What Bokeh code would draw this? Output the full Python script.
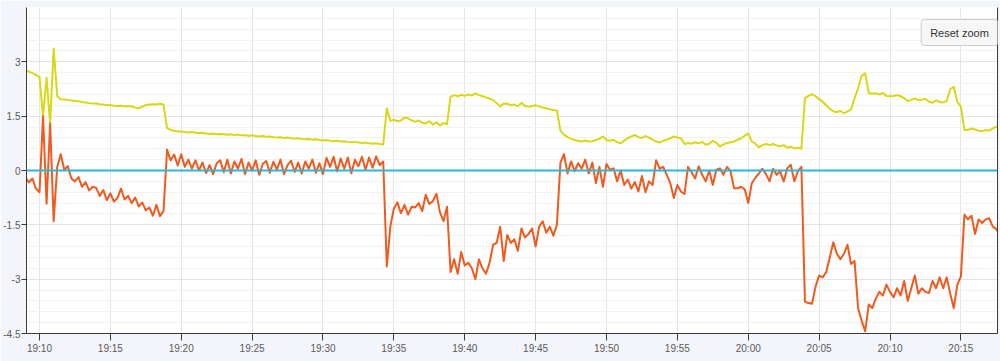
import numpy as np
import pandas as pd
from bokeh.plotting import figure
from bokeh.models import (FixedTicker, DatetimeTickFormatter, Range1d, Label,
                          LinearAxis, Span)
from bokeh.embed import file_html
from bokeh.resources import INLINE

# ---------------- data ----------------
DAY = "2024-01-01"
SERIES_START = "19:09:00"
STEP_SECONDS = 15
VIEW_START = "19:09:05"
VIEW_END = "20:17:35"

yellow = [
    2.77, 2.73, 2.69, 2.64, 2.57, 1.50, 2.56, 1.30, 3.37, 2.05,
    1.97, 1.96, 1.95, 1.93, 1.92, 1.91, 1.89, 1.88, 1.86, 1.85,
    1.85, 1.83, 1.82, 1.80, 1.81, 1.79, 1.78, 1.79, 1.77, 1.78,
    1.77, 1.74, 1.72, 1.76, 1.81, 1.82, 1.83, 1.82, 1.84, 1.82,
    1.17, 1.12, 1.10, 1.08, 1.08, 1.06, 1.05, 1.06, 1.04, 1.03,
    1.04, 1.02, 1.01, 1.02, 1.00, 1.01, 1.00, 0.99, 1.00, 0.98,
    0.99, 0.97, 0.97, 0.96, 0.97, 0.95, 0.94, 0.95, 0.93, 0.94,
    0.92, 0.91, 0.92, 0.90, 0.91, 0.89, 0.88, 0.89, 0.87, 0.86,
    0.87, 0.85, 0.86, 0.84, 0.83, 0.84, 0.82, 0.81, 0.82, 0.80,
    0.81, 0.79, 0.78, 0.79, 0.77, 0.76, 0.77, 0.75, 0.74, 0.75,
    0.73, 0.72, 1.72, 1.37, 1.40, 1.36, 1.38, 1.46, 1.44, 1.38,
    1.35, 1.38, 1.32, 1.30, 1.36, 1.27, 1.33, 1.24, 1.31, 1.28,
    2.04, 2.08, 2.05, 2.09, 2.06, 2.10, 2.07, 2.13, 2.08, 2.05,
    2.02, 1.98, 1.95, 1.86, 1.77, 1.85, 1.84, 1.80, 1.82, 1.77,
    1.87, 1.78, 1.76, 1.78, 1.80, 1.77, 1.74, 1.72, 1.69, 1.67,
    1.66, 1.10, 0.99, 0.92, 0.88, 0.84, 0.82, 0.80, 0.83, 0.80,
    0.81, 0.84, 0.88, 0.94, 0.84, 0.82, 0.85, 0.78, 0.75, 0.83,
    0.89, 0.94, 0.98, 0.92, 0.90, 0.95, 0.91, 0.85, 0.80, 0.77,
    0.82, 0.85, 0.89, 0.94, 0.91, 0.89, 0.73, 0.76, 0.74, 0.78,
    0.75, 0.79, 0.71, 0.74, 0.82, 0.77, 0.66, 0.72, 0.76, 0.78,
    0.80, 0.85, 0.89, 0.96, 1.02, 0.80, 0.74, 0.64, 0.70, 0.73,
    0.70, 0.73, 0.69, 0.67, 0.70, 0.63, 0.66, 0.61, 0.63, 0.60,
    2.00, 2.06, 2.11, 2.05, 1.97, 1.90, 1.80, 1.70, 1.64, 1.61,
    1.65, 1.58, 1.63, 1.68, 2.00, 2.27, 2.62, 2.68, 2.14, 2.12,
    2.13, 2.10, 2.14, 2.06, 2.05, 2.06, 2.08, 2.05, 2.00, 1.92,
    1.95, 1.99, 1.94, 1.95, 1.98, 1.90, 1.87, 1.94, 1.89, 1.88,
    1.92, 2.25, 2.31, 1.90, 1.76, 1.12, 1.12, 1.16, 1.13, 1.10,
    1.08, 1.12, 1.10, 1.16, 1.21, 1.20,
]

orange = [
    -0.18, -0.33, -0.22, -0.50, -0.60, 1.50, -0.92, 1.30, -1.40, 0.10,
    0.45, 0.02, 0.12, -0.22, -0.30, -0.18, -0.45, -0.32, -0.55, -0.45,
    -0.48, -0.70, -0.54, -0.82, -0.63, -0.86, -0.76, -0.50, -0.80, -0.70,
    -0.90, -0.75, -0.99, -0.88, -1.10, -1.02, -1.25, -0.95, -1.26, -1.12,
    0.58, 0.28, 0.44, 0.14, 0.45, 0.10, 0.30, 0.05, 0.28, 0.00,
    0.22, -0.07, 0.15, -0.10, 0.20, 0.28, -0.05, 0.30, -0.08, 0.25,
    0.05, 0.32, -0.10, 0.22, 0.00, 0.28, -0.12, 0.18, 0.26, -0.06,
    0.24, 0.02, 0.30, -0.10, 0.15, 0.27, -0.04, 0.22, -0.08, 0.25,
    0.05, 0.30, -0.06, 0.20, -0.10, 0.35, 0.10, 0.38, -0.02, 0.33,
    0.05, 0.36, -0.08, 0.30, 0.12, 0.38, 0.02, 0.36, 0.08, 0.39,
    0.15, 0.25, -2.65, -1.55, -1.05, -0.88, -1.18, -0.95, -1.22, -1.00,
    -1.02, -0.90, -1.12, -0.67, -0.92, -0.85, -0.64, -1.15, -1.40, -1.00,
    -2.80, -2.45, -2.85, -2.25, -2.62, -2.55, -2.70, -3.00, -2.45, -2.70,
    -2.85, -2.55, -2.05, -2.00, -1.55, -2.50, -1.78, -2.00, -1.90, -2.22,
    -1.60, -1.85, -1.75, -1.60, -2.10, -1.55, -1.40, -1.72, -1.55, -1.80,
    -1.50, 0.22, 0.45, -0.08, 0.25, -0.02, 0.20, 0.05, 0.30, -0.08,
    0.22, -0.35, 0.10, -0.45, 0.18, 0.02, 0.06, -0.30, 0.00, -0.40,
    -0.25, -0.50, -0.32, -0.58, -0.15, -0.60, -0.30, -0.40, 0.28, 0.05,
    0.10, -0.12, -0.35, -0.76, -0.40, -0.58, -0.65, 0.10, -0.05, -0.22,
    0.12, -0.12, -0.30, 0.00, -0.40, 0.02, 0.06, -0.12, 0.10, -0.02,
    -0.49, -0.49, -0.45, -0.52, -0.90, -0.35, -0.20, -0.08, 0.05, -0.10,
    -0.30, 0.05, -0.12, -0.02, -0.30, 0.06, 0.16, -0.30, -0.02, 0.10,
    -3.62, -3.66, -3.68, -3.20, -2.90, -2.95, -2.80, -2.40, -1.98, -2.30,
    -2.45, -2.30, -2.05, -2.58, -2.50, -3.80, -4.15, -4.44, -3.70, -3.80,
    -3.53, -3.35, -3.45, -3.15, -3.35, -3.50, -3.25, -3.45, -3.05, -3.60,
    -3.25, -2.90, -3.40, -3.25, -3.35, -3.38, -3.05, -3.25, -2.95, -3.25,
    -2.95, -3.40, -3.80, -3.15, -2.92, -1.22, -1.35, -1.25, -1.75, -1.35,
    -1.45, -1.35, -1.32, -1.55, -1.62, -1.78,
]

baseline_value = 0.0

y_min, y_max = -4.5, 4.5
y_ticks = [-4.5, -3.0, -1.5, 0.0, 1.5, 3.0]
y_tick_labels = {-4.5: "-4.5", -3.0: "-3", -1.5: "-1.5", 0.0: "0", 1.5: "1.5", 3.0: "3"}
x_tick_times = ["19:10", "19:15", "19:20", "19:25", "19:30", "19:35", "19:40",
                "19:45", "19:50", "19:55", "20:00", "20:05", "20:10", "20:15"]

# ---------------- build ----------------
t_yellow = pd.date_range(f"{DAY} {SERIES_START}", periods=len(yellow), freq=f"{STEP_SECONDS}s")
t_orange = pd.date_range(f"{DAY} {SERIES_START}", periods=len(orange), freq=f"{STEP_SECONDS}s")

def ms(t):
    return pd.Timestamp(f"{DAY} {t}").value // 10**6

YELLOW = "#d8d814"
ORANGE = "#f15a1f"
CYAN = "#2bb8d8"
AXIS = "#3a3a3a"
LABEL = "#5a5a5a"
FONT = "Liberation Sans"

p = figure(width=1000, height=361, x_axis_type="datetime",
           output_backend="svg", toolbar_location=None,
           x_range=Range1d(pd.Timestamp(f"{DAY} {VIEW_START}"), pd.Timestamp(f"{DAY} {VIEW_END}")),
           y_range=Range1d(y_min, y_max),
           min_border_left=0, min_border_right=3, min_border_top=7, min_border_bottom=28,
           background_fill_color="white", border_fill_color="#f4f5fa",
           outline_line_color=None)

# x axis
xax = p.xaxis[0]
xax.ticker = FixedTicker(ticks=[ms(t) for t in x_tick_times], minor_ticks=[])
xax.formatter = DatetimeTickFormatter(seconds="%H:%M", minsec="%H:%M", minutes="%H:%M",
                                      hourmin="%H:%M", hours="%H:%M")
xax.axis_line_color = AXIS
xax.major_tick_line_color = AXIS
xax.major_tick_out = 7
xax.major_tick_in = 0
xax.minor_tick_out = 0
xax.major_label_standoff = 2
xax.major_label_text_font = FONT
xax.major_label_text_font_size = "10px"
xax.major_label_text_color = LABEL

# y axis
minor = [float(v) for v in np.round(np.arange(y_min, y_max + 0.01, 0.3), 2)]
yax = p.yaxis[0]
yax.ticker = FixedTicker(ticks=y_ticks, minor_ticks=minor)
yax.major_label_overrides = y_tick_labels
yax.axis_line_color = AXIS
yax.major_tick_line_color = AXIS
yax.major_tick_out = 5
yax.major_tick_in = 0
yax.minor_tick_out = 0
yax.minor_tick_in = 0
yax.major_label_standoff = 1
yax.major_label_text_font = FONT
yax.major_label_text_font_size = "10px"
yax.major_label_text_color = LABEL

# right border axis line
rax = LinearAxis(ticker=FixedTicker(ticks=[], minor_ticks=[]),
                 axis_line_color=AXIS, major_tick_out=0, major_tick_in=0,
                 minor_tick_out=0, minor_tick_in=0, major_label_standoff=0)
p.add_layout(rax, "right")

# grids
p.xgrid.grid_line_color = "#e6e6e6"
p.ygrid.grid_line_color = "#e3e3e3"
p.ygrid.minor_grid_line_color = "#f2f2f2"

# series
p.line(t_yellow, yellow, line_color=YELLOW, line_width=2, line_join="round")
p.line(t_orange, orange, line_color=ORANGE, line_width=2, line_join="round")
p.add_layout(Span(location=baseline_value, dimension="width", line_color=CYAN, line_width=2))

# "Reset zoom" button
p.add_layout(Label(x=933, y=301, x_units="screen", y_units="screen", text="Reset zoom",
                   text_font=FONT, text_font_size="11px", text_color="#333333",
                   text_align="center", text_baseline="middle",
                   background_fill_color="#f7f7f7", border_line_color="#cccccc",
                   padding=(9, 7), border_radius=3))

open("out.html", "w").write(file_html(p, INLINE))
